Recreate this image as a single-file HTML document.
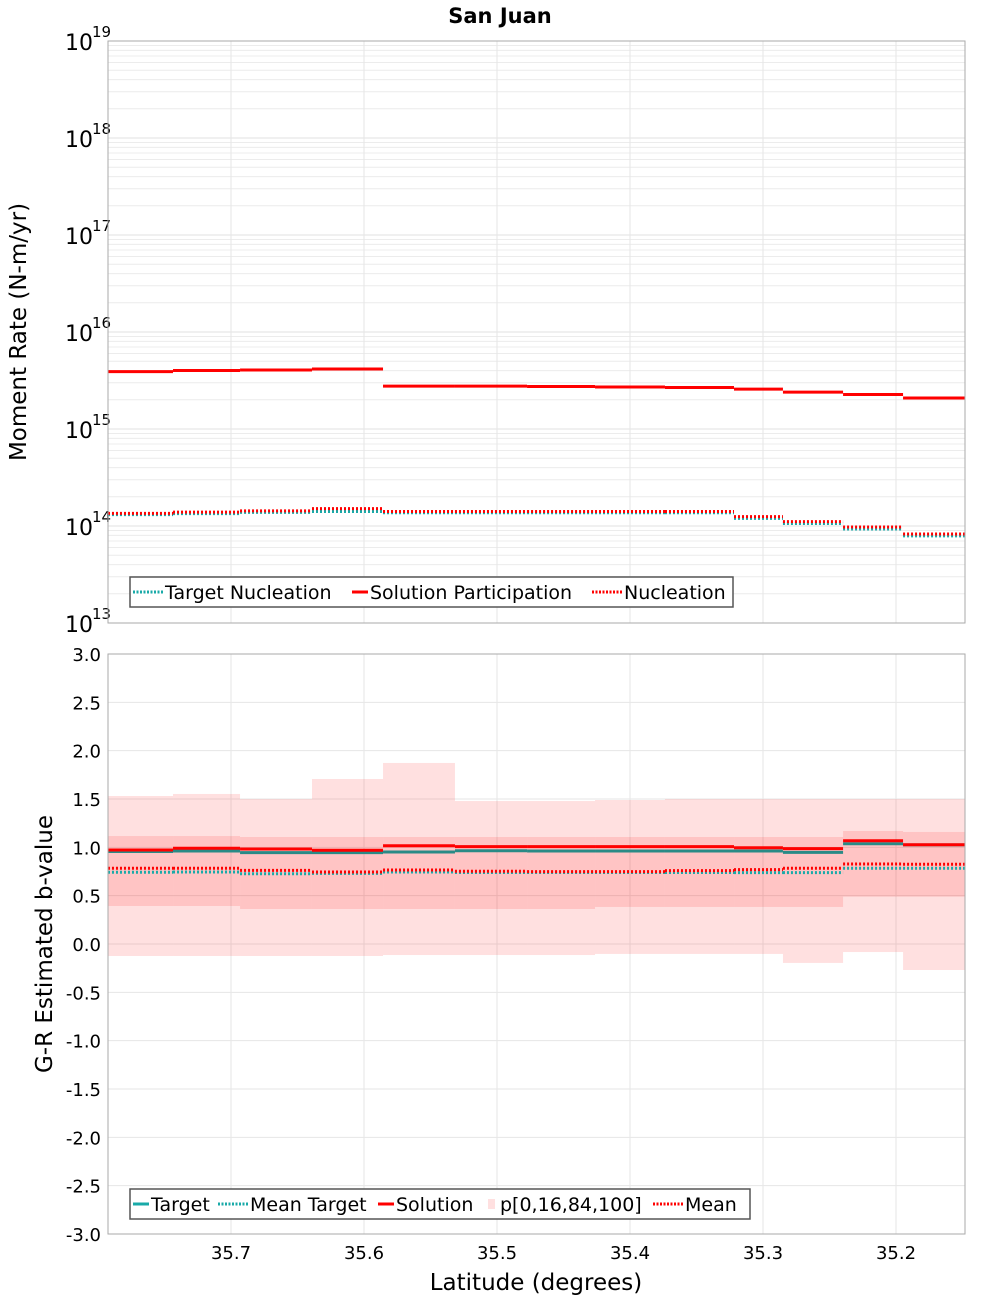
<!DOCTYPE html>
<html><head><meta charset="utf-8"><style>
html,body{margin:0;padding:0;background:#fff;}
svg{display:block;font-family:"DejaVu Sans","Liberation Sans",sans-serif;}
</style></head><body>
<svg id="chart" width="1000" height="1300" viewBox="0 0 1000 1300" xmlns="http://www.w3.org/2000/svg">
<text x="500" y="23" text-anchor="middle" font-weight="bold" font-size="21">San Juan</text>
<g id="topPanel"></g>
<g id="botPanel"></g>
<text transform="translate(26,332) rotate(-90)" text-anchor="middle" font-size="23">Moment Rate (N-m/yr)</text>
<text transform="translate(52,944) rotate(-90)" text-anchor="middle" font-size="23">G-R Estimated b-value</text>
<text x="536" y="1290" text-anchor="middle" font-size="23">Latitude (degrees)</text>
</svg>
<script>
// Segment boundaries (latitude, degrees; decreasing left to right)
const edges = [35.7925,35.7436,35.6932,35.6391,35.5857,35.5316,35.4774,35.4263,35.3737,35.3218,35.2850,35.2398,35.1947,35.1481];
// Top panel
const solutionParticipation = [3.90e15,4.01e15,4.06e15,4.15e15,2.77e15,2.77e15,2.74e15,2.71e15,2.68e15,2.58e15,2.40e15,2.27e15,2.09e15];
const nucleation = [1.35e14,1.39e14,1.43e14,1.51e14,1.41e14,1.41e14,1.41e14,1.41e14,1.41e14,1.25e14,1.11e14,9.77e13,8.27e13];
const targetNucleation = [1.31e14,1.34e14,1.38e14,1.41e14,1.37e14,1.37e14,1.37e14,1.37e14,1.37e14,1.20e14,1.06e14,9.3e13,7.9e13];
const topExponents = [13,14,15,16,17,18,19];
// Bottom panel
const target = [0.957,0.962,0.945,0.945,0.952,0.965,0.962,0.962,0.962,0.962,0.948,1.037,1.025];
const solution = [0.972,0.99,0.983,0.97,1.017,1.007,1.007,1.007,1.007,0.996,0.986,1.068,1.027];
const meanTarget = [0.742,0.745,0.727,0.731,0.745,0.74,0.74,0.74,0.74,0.738,0.738,0.783,0.783];
const meanSolution = [0.783,0.783,0.762,0.745,0.766,0.752,0.749,0.749,0.759,0.769,0.783,0.828,0.825];
const p0 = [-0.124,-0.124,-0.124,-0.124,-0.114,-0.114,-0.114,-0.103,-0.103,-0.103,-0.196,-0.083,-0.269];
const p16 = [0.393,0.393,0.362,0.362,0.362,0.362,0.362,0.383,0.383,0.383,0.383,0.49,0.49];
const p84 = [1.117,1.117,1.107,1.107,1.107,1.107,1.107,1.107,1.107,1.107,1.107,1.169,1.159];
const p100 = [1.531,1.552,1.5,1.707,1.873,1.479,1.479,1.49,1.5,1.5,1.5,1.5,1.5];
const bTicks = [3.0,2.5,2.0,1.5,1.0,0.5,0.0,-0.5,-1.0,-1.5,-2.0,-2.5,-3.0];
const xTicks = [35.7,35.6,35.5,35.4,35.3,35.2];

const NS="http://www.w3.org/2000/svg";
const L=108,R=965;
const xS = lat => 231 + (35.7-lat)*1330;
const yTop = v => 623 - (Math.log10(v)-13)*97;
const yBot = v => 654 + (3-v)*96.667;
function mk(tag, attrs, parent){const e=document.createElementNS(NS,tag);for(const k in attrs)e.setAttribute(k,attrs[k]);parent.appendChild(e);return e;}
const topG=document.getElementById('topPanel'), botG=document.getElementById('botPanel');

// top frame & grid
mk('rect',{x:L,y:41,width:R-L,height:582,fill:'#fff'},topG);
for(let d=13; d<19; d++){for(let m=2;m<=9;m++){const l=mk('line',{x1:L,x2:R,y1:yTop(m*Math.pow(10,d)),y2:yTop(m*Math.pow(10,d)),stroke:'#ececec','stroke-width':1},topG);

}}
topExponents.forEach(e=>{const y=yTop(Math.pow(10,e));
const g=mk('line',{x1:L,x2:R,y1:y,y2:y,stroke:'#e2e2e2'},topG);


const t=mk('text',{x:93,y:y+9,'text-anchor':'end','font-size':22},topG);t.textContent='10';


const s=mk('text',{x:92,y:y-4,'font-size':15},topG);s.textContent=String(e);

});
xTicks.forEach(v=>{const l=mk('line',{x1:xS(v),x2:xS(v),y1:41,y2:623,stroke:'#e6e6e6'},topG);

});
function steps(parent, arr, yf, color, width, dash, name){
  arr.forEach((v,i)=>{const a={x1:xS(edges[i]),x2:xS(edges[i+1]),y1:yf(v),y2:yf(v),stroke:color,'stroke-width':width};
  if(dash)a['stroke-dasharray']=dash;const l=mk('line',a,parent);
  
  });
}
steps(topG,targetNucleation,yTop,'#19aaa8',3,'2,2','target-nucleation-step');
steps(topG,solutionParticipation,yTop,'#ff0000',3,null,'solution-participation-step');
steps(topG,nucleation,yTop,'#ff0000',3,'2,2','nucleation-step');
mk('rect',{x:L,y:41,width:R-L,height:582,fill:'none',stroke:'#aaa'},topG);

// bottom
mk('rect',{x:L,y:654,width:R-L,height:580,fill:'#fff'},botG);
bTicks.forEach(v=>{const y=yBot(v);const g=mk('line',{x1:L,x2:R,y1:y,y2:y,stroke:'#e6e6e6'},botG);


const t=mk('text',{x:101,y:y+7,'text-anchor':'end','font-size':18},botG);t.textContent=v.toFixed(1);

});
xTicks.forEach(v=>{const l=mk('line',{x1:xS(v),x2:xS(v),y1:654,y2:1234,stroke:'#e6e6e6'},botG);


const t=mk('text',{x:xS(v),y:1259,'text-anchor':'middle','font-size':18},botG);t.textContent=v.toFixed(1);

});
edges.slice(0,-1).forEach((e,i)=>{const x1=xS(e),x2=xS(edges[i+1]);
const o=mk('rect',{x:x1,y:yBot(p100[i]),width:x2-x1,height:yBot(p0[i])-yBot(p100[i]),fill:'#ff0000','fill-opacity':0.12},botG);


const n=mk('rect',{x:x1,y:yBot(p84[i]),width:x2-x1,height:yBot(p16[i])-yBot(p84[i]),fill:'#ff0000','fill-opacity':0.12},botG);

});
steps(botG,target,yBot,'#2a8a86',3,null,'target-step');
steps(botG,meanTarget,yBot,'#19aaa8',3,'2,2','mean-target-step');
steps(botG,solution,yBot,'#ff0000',3,null,'solution-step');
steps(botG,meanSolution,yBot,'#ff0000',3,'2,2','mean-step');
mk('rect',{x:L,y:654,width:R-L,height:580,fill:'none',stroke:'#aaa'},botG);

// legends
function legend(parent,x,y,w,items,name){
  const g=mk('g',{},parent);
  
  
  mk('rect',{x:x,y:y,width:w,height:30,fill:'#fff',stroke:'#555','stroke-width':1.5},g);
  let cx=x+3;
  items.forEach(it=>{
    if(it.patch){mk('rect',{x:cx+6,y:y+10,width:7,height:10,fill:'#ff0000','fill-opacity':0.12},g);}
    else{const a={x1:cx,x2:cx+it.lw,y1:y+15,y2:y+15,stroke:it.c,'stroke-width':3};if(it.d)a['stroke-dasharray']='2,1.5';mk('line',a,g);}
    const t=mk('text',{x:cx+it.lw+2,y:y+22,'font-size':19},g);t.textContent=it.t;
    
    
    cx+=it.lw+2+it.tw;
  });
}
legend(topG,130,577,603,[{c:'#19aaa8',d:1,t:'Target Nucleation',lw:30,tw:187},{c:'#ff0000',t:'Solution Participation',lw:16,tw:222},{c:'#ff0000',d:1,t:'Nucleation',lw:30,tw:110}],'top-legend');
legend(botG,130,1189,620,[{c:'#19aaa8',t:'Target',lw:16,tw:67},{c:'#19aaa8',d:1,t:'Mean Target',lw:30,tw:128},{c:'#ff0000',t:'Solution',lw:16,tw:86},{patch:1,t:'p[0,16,84,100]',lw:16,tw:153},{c:'#ff0000',d:1,t:'Mean',lw:30,tw:60}],'bottom-legend');
</script>
</body></html>
